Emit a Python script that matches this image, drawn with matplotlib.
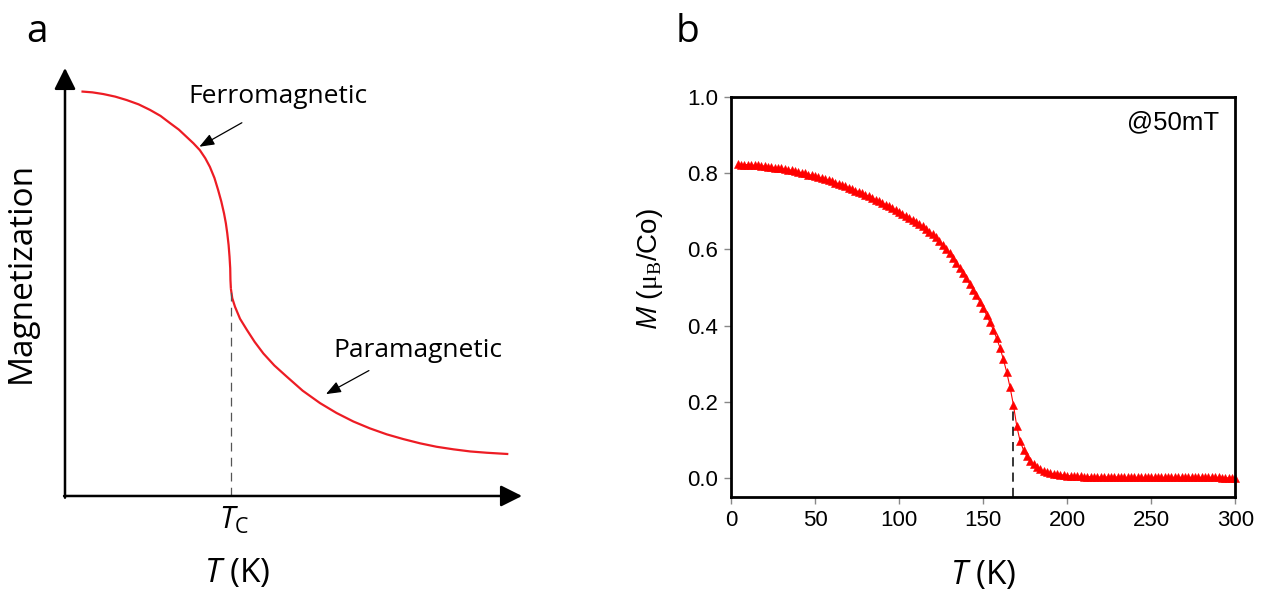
import numpy as np
import matplotlib
matplotlib.use('Agg')
import matplotlib.pyplot as plt

plt.rcParams['font.family'] = ['Liberation Sans', 'DejaVu Sans']
plt.rcParams['mathtext.fontset'] = 'custom'
plt.rcParams['mathtext.it'] = 'Open Sans:italic'
plt.rcParams['mathtext.sf'] = 'Open Sans'
plt.rcParams['mathtext.rm'] = 'Liberation Serif'

## Schematic M(T) (arbitrary units, axis runs 0..100)
ferro_x = [3.6, 6.0, 8.4, 11.0, 13.5, 16.1, 18.6, 20.9, 23.0, 24.9, 26.6, 28.1, 29.5,
           30.7, 31.7, 32.7, 33.5, 34.2, 34.8, 35.2, 35.5, 35.8, 36.0, 36.15, 36.2, 36.3]
ferro_y = [94.5, 94.3, 93.9, 93.3, 92.5, 91.5, 90.2, 88.8, 87.1, 85.6, 83.9, 82.4, 80.8,
           78.9, 76.9, 74.3, 71.5, 68.8, 66.0, 63.7, 61.4, 58.6, 55.9, 53.2, 50.5, 48.4]
para_x = [36.3, 36.6, 37.2, 38.3, 39.8, 41.5, 43.4, 45.8, 48.5, 52.0, 55.8, 59.4, 63.1,
          66.7, 70.4, 74.0, 77.7, 81.3, 85.0, 88.7, 92.3, 97.0]
para_y = [48.4, 46.2, 44.2, 41.4, 38.8, 36.0, 33.3, 30.5, 27.9, 24.6, 21.7, 19.4, 17.4,
          15.8, 14.4, 13.3, 12.3, 11.5, 10.9, 10.4, 10.1, 9.8]
tc_a = 36.3

## Measured M(T) at 50 mT
T_b = np.arange(4, 301, 2)
M_b = [0.823, 0.822, 0.822, 0.822, 0.821, 0.820, 0.820, 0.819, 0.818, 0.817,
       0.816, 0.814, 0.813, 0.812, 0.810, 0.809, 0.807, 0.805, 0.803, 0.801,
       0.799, 0.796, 0.794, 0.792, 0.789, 0.786, 0.784, 0.781, 0.778, 0.775,
       0.772, 0.768, 0.765, 0.762, 0.758, 0.754, 0.751, 0.747, 0.743, 0.739,
       0.735, 0.730, 0.726, 0.722, 0.717, 0.713, 0.708, 0.703, 0.698, 0.693,
       0.688, 0.683, 0.677, 0.672, 0.666, 0.660, 0.653, 0.646, 0.639, 0.631,
       0.622, 0.612, 0.601, 0.590, 0.578, 0.565, 0.552, 0.538, 0.524, 0.509,
       0.494, 0.479, 0.463, 0.446, 0.428, 0.409, 0.389, 0.367, 0.342, 0.312,
       0.278, 0.238, 0.192, 0.136, 0.097, 0.074, 0.057, 0.045, 0.036, 0.029,
       0.023, 0.019, 0.016, 0.013, 0.011, 0.010, 0.009, 0.008, 0.007, 0.006,
       0.006, 0.005, 0.005, 0.004, 0.004, 0.004, 0.003, 0.003, 0.003, 0.003,
       0.003, 0.003, 0.003, 0.003, 0.003, 0.002, 0.002, 0.002, 0.002, 0.002,
       0.002, 0.002, 0.002, 0.002, 0.002, 0.002, 0.002, 0.002, 0.002, 0.002,
       0.002, 0.002, 0.002, 0.002, 0.002, 0.002, 0.002, 0.002, 0.002, 0.002,
       0.002, 0.002, 0.002, 0.002, 0.001, 0.001, 0.001, 0.001, 0.001]
tc_b = 167.5
tc_b_top = 0.19

fig = plt.figure(figsize=(12.82, 5.93), dpi=100)

# ---- panel a ----
axa = fig.add_axes([0.0507, 0.1636, 0.3565, 0.7218])
axa.set_xlim(0, 100)
axa.set_ylim(0, 100)
axa.axis('off')

axis_arrow = dict(arrowstyle='-|>,head_length=1.3,head_width=0.65', mutation_scale=10,
                  lw=1.8, color='k', shrinkA=0, shrinkB=0)
axa.annotate('', xy=(100, 0), xytext=(-0.2, 0), arrowprops=axis_arrow, annotation_clip=False)
axa.annotate('', xy=(0, 100), xytext=(0, -0.4), arrowprops=axis_arrow, annotation_clip=False)

axa.plot(ferro_x, ferro_y, color='#ed1c24', lw=1.6, solid_capstyle='butt')
axa.plot(para_x, para_y, color='#ed1c24', lw=1.6, solid_capstyle='butt')
axa.plot([tc_a, tc_a], [0, ferro_y[-1]], color='#555555', lw=0.9, dashes=(7, 5))

label_arrow = dict(arrowstyle='-|>,head_length=0.9,head_width=0.35', mutation_scale=10,
                   lw=0.9, color='k', shrinkA=0, shrinkB=0)
axa.annotate('', xy=(29.4, 81.6), xytext=(38.7, 87.2), arrowprops=label_arrow)
axa.annotate('', xy=(57.1, 23.8), xytext=(66.5, 29.3), arrowprops=label_arrow)

axa.text(26.9, 91.8, 'Ferromagnetic', family='Open Sans', fontsize=19, ha='left', va='baseline')
axa.text(58.7, 32.5, 'Paramagnetic', family='Open Sans', fontsize=19, ha='left', va='baseline')
axa.text(-9.6, 52.2, 'Magnetization', family='Open Sans', fontsize=24, rotation=90,
         ha='center', va='center')
axa.text(36.9, -7.7, r'$T_\mathsf{C}$', fontsize=22, ha='center', va='baseline')
axa.text(37.6, -20.1, r'$T$ (K)', family='Open Sans', fontsize=24, ha='center', va='baseline')

# ---- panel b ----
axb = fig.add_axes([0.5702, 0.1614, 0.3934, 0.6755])
axb.plot(T_b, M_b, color='red', lw=0.8, marker='^', ms=5.6, mfc='red', mec='red', mew=0.4,
         clip_on=False, zorder=2)
axb.plot([tc_b, tc_b], [-0.05, tc_b_top], color='k', lw=1.1, dashes=(6, 4), zorder=3)

axb.set_xlim(0, 300)
axb.set_ylim(-0.05, 1.0)
axb.set_xticks(np.arange(0, 301, 50))
axb.set_yticks(np.arange(0, 1.01, 0.2))
axb.yaxis.set_major_formatter(matplotlib.ticker.FormatStrFormatter('%.1f'))
axb.tick_params(direction='out', length=5, width=1, color='#888888', labelsize=16, pad=4)
for s in axb.spines.values():
    s.set_linewidth(2)

axb.set_xlabel(r'$T$ (K)', family='Open Sans', fontsize=24, labelpad=20)
axb.set_ylabel(r'$M$ ($\mathrm{μ}_\mathrm{B}$/Co)', fontsize=20, labelpad=16)
axb.yaxis.label.set_y(0.57)
axb.text(0.968, 0.918, '@50mT', transform=axb.transAxes, ha='right', va='baseline', fontsize=18.5)

fig.text(0.0205, 1 - 42 / 593, 'a', family='Open Sans', fontsize=28, ha='left', va='baseline')
fig.text(0.527, 1 - 42 / 593, 'b', family='Open Sans', fontsize=28, ha='left', va='baseline')

fig.savefig('out.png', dpi=100)
